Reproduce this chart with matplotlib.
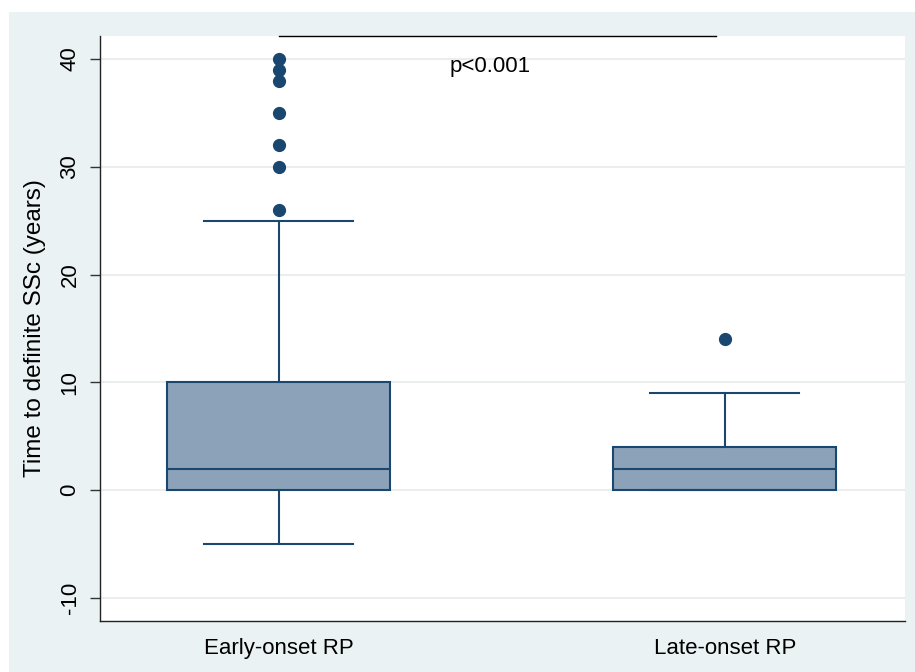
import matplotlib
matplotlib.use("Agg")
import matplotlib.pyplot as plt
from matplotlib.patches import Rectangle

plt.rcParams['font.family'] = ['Liberation Sans', 'DejaVu Sans']

# Summary statistics per group (years)
groups = ["Early-onset RP", "Late-onset RP"]
q1 = [0, 0]
medians = [2, 2]
q3 = [10, 4]
whisker_low = [-5, 0]
whisker_high = [25, 9]
outliers = [[26, 30, 32, 35, 38, 39, 40], [14]]

y_ticks = [-10, 0, 10, 20, 30, 40]
p_label = "p<0.001"
y_label = "Time to definite SSc (years)"

navy = "#1A476F"
box_fill = "#8CA2B8"
bg = "#EAF2F3"

fig = plt.figure(figsize=(9.15, 6.72), dpi=100)
fig.patch.set_facecolor("white")
fig.patches.append(Rectangle((9 / 915, 0), 1 - 9 / 915, 1 - 12 / 672,
                             transform=fig.transFigure, facecolor=bg,
                             edgecolor="none", zorder=-10))

ax = fig.add_axes([100 / 915, 1 - 621 / 672, 805 / 915, 585 / 672])
ax.set_zorder(1)
ax.set_facecolor("white")

stats = []
for i, g in enumerate(groups):
    stats.append(dict(label=g, q1=q1[i], med=medians[i], q3=q3[i],
                      whislo=whisker_low[i], whishi=whisker_high[i],
                      fliers=outliers[i]))

ax.bxp(stats, positions=[1, 2], widths=0.5, patch_artist=True,
       showfliers=True, capwidths=0.334,
       boxprops=dict(facecolor=box_fill, edgecolor=navy, linewidth=1.5),
       medianprops=dict(color=navy, linewidth=1.5),
       whiskerprops=dict(color=navy, linewidth=1.5),
       capprops=dict(color=navy, linewidth=1.5),
       flierprops=dict(marker='o', markerfacecolor=navy, markeredgecolor=navy,
                       markersize=8.5))

ax.set_xlim(0.599, 2.404)
ax.set_ylim(-12.13, 42.13)
ax.set_yticks(y_ticks)
ax.set_yticklabels([str(t) for t in y_ticks], rotation=90, va='center', fontsize=16)
ax.yaxis.grid(True, color="#EBEEEE", linewidth=1.5)
ax.set_axisbelow(True)
ax.tick_params(axis='y', length=7, width=1, pad=7, color="#333333")
ax.tick_params(axis='x', length=0, pad=12, labelsize=16)
ax.set_xticks([1, 2])
ax.set_xticklabels(groups)
ax.set_ylabel(y_label, fontsize=17.5, labelpad=10)

for side in ["top", "right"]:
    ax.spines[side].set_visible(False)
for side in ["left", "bottom"]:
    ax.spines[side].set_color("#222222")
    ax.spines[side].set_linewidth(1.0)

# Significance bar and p-value
top = ax.get_ylim()[1]
ax.plot([1.0, 1.98], [top, top], color="black", linewidth=1, clip_on=False)
ax.text(1.473, 39.3, p_label, ha='center', va='center', fontsize=16)

fig.savefig("out.png", dpi=100)
